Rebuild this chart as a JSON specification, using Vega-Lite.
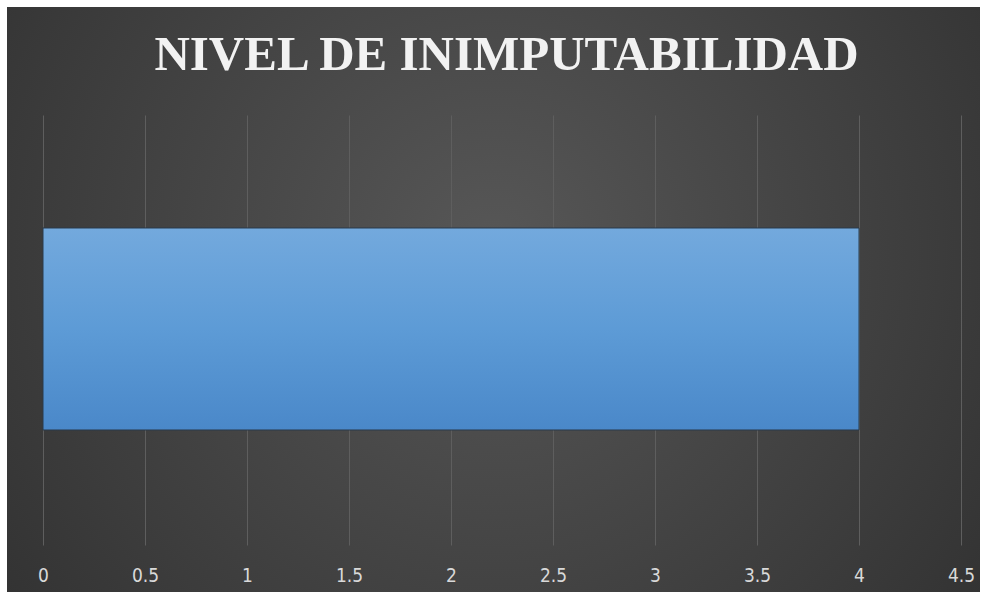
{
  "$schema": "https://vega.github.io/schema/vega-lite/v6.json",
  "width": 973,
  "height": 585,
  "autosize": {"type": "none"},
  "padding": {"left": 7, "top": 7, "right": 5, "bottom": 5},
  "background": "#ffffff",
  "title": {
    "text": "NIVEL DE INIMPUTABILIDAD",
    "font": "Liberation Serif",
    "fontSize": 49,
    "fontWeight": "bold",
    "color": "#f2f2f2",
    "anchor": "middle",
    "frame": "group",
    "baseline": "top",
    "offset": -73,
    "dx": 13
  },
  "config": {
    "view": {
      "stroke": null,
      "fill": {
        "gradient": "radial",
        "x1": 0.5, "y1": 0.45, "r1": 0,
        "x2": 0.5, "y2": 0.45, "r2": 0.75,
        "stops": [
          {"offset": 0, "color": "#575757"},
          {"offset": 1, "color": "#2b2b2b"}
        ]
      }
    }
  },
  "data": {"values": [{"categoria": "Nivel de inimputabilidad", "valor": 4}]},
  "mark": {
    "type": "bar",
    "fill": {
      "gradient": "linear",
      "x1": 0, "y1": 0, "x2": 0, "y2": 1,
      "stops": [
        {"offset": 0, "color": "#73a9dd"},
        {"offset": 0.5, "color": "#5d9bd6"},
        {"offset": 1, "color": "#4a88c9"}
      ]
    },
    "stroke": "#2a3a4a",
    "strokeWidth": 1
  },
  "encoding": {
    "y": {
      "field": "categoria",
      "type": "nominal",
      "axis": null,
      "scale": {"paddingInner": 0, "paddingOuter": 0.948, "align": 0.577}
    },
    "x": {
      "field": "valor",
      "type": "quantitative",
      "scale": {"domain": [-0.17647, 4.593], "nice": false, "zero": false},
      "axis": {
        "title": null,
        "values": [0, 0.5, 1, 1.5, 2, 2.5, 3, 3.5, 4, 4.5],
        "format": "~g",
        "grid": false,
        "domain": false,
        "ticks": true,
        "tickSize": -430,
        "tickColor": "#5e5e5e",
        "tickWidth": 1,
        "offset": -47,
        "labelPadding": 451,
        "labelFont": "DejaVu Sans Condensed, Liberation Sans Narrow, Roboto, sans-serif",
        "labelFontSize": 19,
        "labelColor": "#d9d9d9",
        "labelBaseline": "top"
      }
    }
  }
}
